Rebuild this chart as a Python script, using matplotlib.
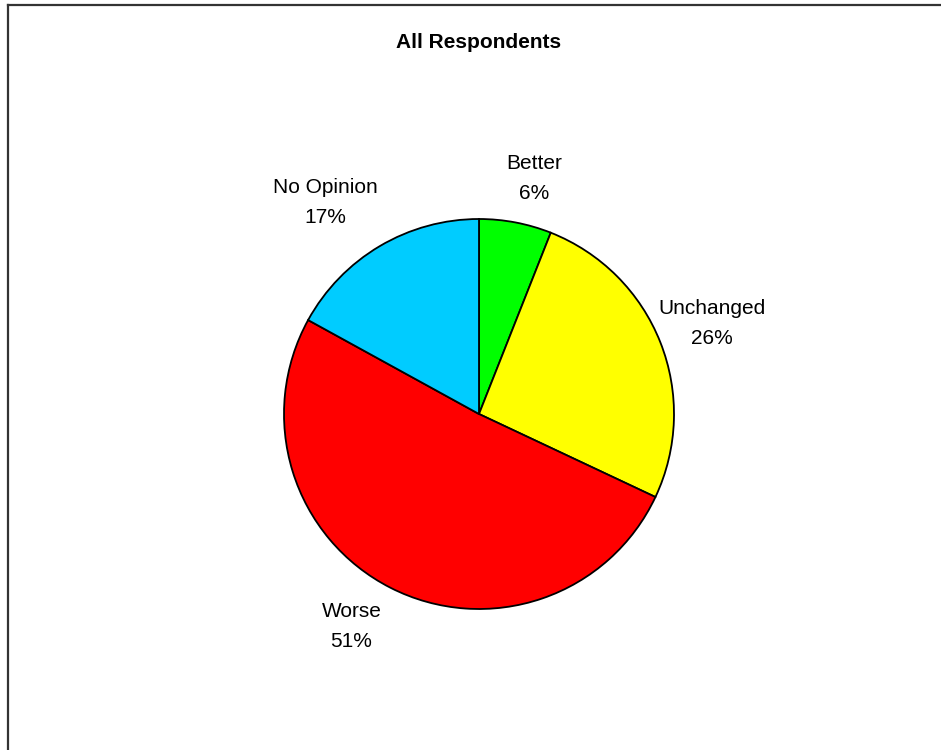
import matplotlib
matplotlib.use("Agg")
import matplotlib.pyplot as plt
from matplotlib.lines import Line2D
import numpy as np

plt.rcParams['font.family'] = ['Liberation Sans', 'DejaVu Sans']

labels = ["Better", "Unchanged", "Worse", "No Opinion"]
values = [6, 26, 51, 17]
colors = ["#00FF00", "#FFFF00", "#FF0000", "#00CCFF"]
# label placement: distance (in radii) and angular nudge (degrees)
label_dist = [1.24, 1.28, 1.27, 1.34]
label_turn = [-2.3, -0.3, -4.0, 5.4]

W, H = 941, 750
fig = plt.figure(figsize=(W / 100, H / 100), dpi=100)
ax = fig.add_axes([0, 0, 1, 1])

cx, cy, r = 479, H - 414, 195
wedges, _ = ax.pie(values, colors=colors, startangle=90, counterclock=False,
                   center=(cx, cy), radius=r,
                   wedgeprops=dict(edgecolor="black", linewidth=1.3))
ax.set_aspect("auto")
ax.set_xlim(0, W)
ax.set_ylim(0, H)
ax.axis("off")

for w, lab, v, d, t in zip(wedges, labels, values, label_dist, label_turn):
    mid = np.deg2rad((w.theta1 + w.theta2) / 2 + t)
    ax.text(cx + d * r * np.cos(mid), cy + d * r * np.sin(mid),
            f"{lab}\n{v}%", ha="center", va="center", fontsize=15,
            linespacing=1.75)

fig.text(479 / W, 1 - 43 / H, "All Respondents", ha="center", va="center",
         fontsize=15, fontweight="bold")

# frame along the left and top edges
fig.add_artist(Line2D([8 / W, 8 / W], [0, 1 - 5 / H], transform=fig.transFigure,
                      color="#333333", linewidth=1.6))
fig.add_artist(Line2D([8 / W, 1], [1 - 5 / H, 1 - 5 / H], transform=fig.transFigure,
                      color="#333333", linewidth=1.6))

fig.savefig("out.png", dpi=100, facecolor="white")
